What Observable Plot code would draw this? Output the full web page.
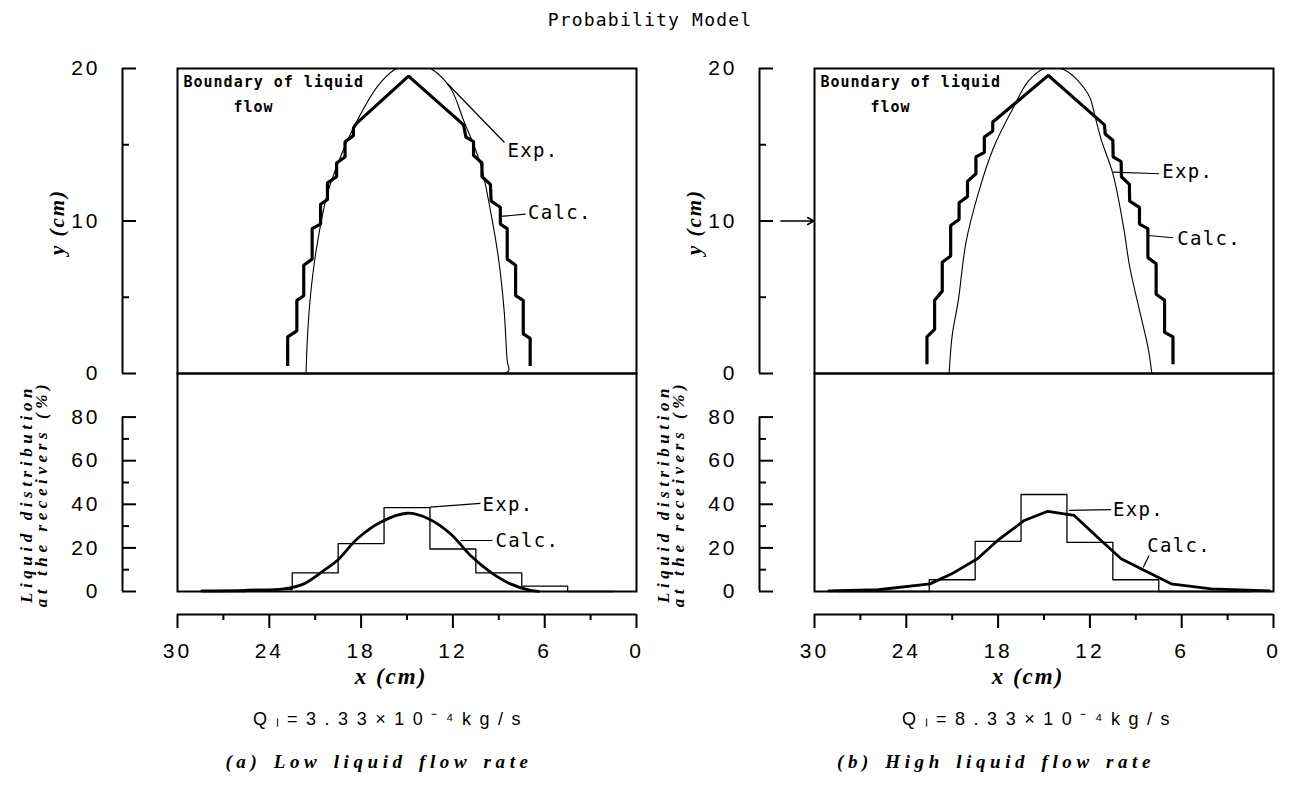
<!DOCTYPE html>
<html><head><meta charset="utf-8">
<script src="https://cdn.jsdelivr.net/npm/d3@7"></script>
<script src="https://cdn.jsdelivr.net/npm/@observablehq/plot@0.6"></script>
<style>
body{margin:0;background:#fff;}
#root{position:relative;width:1300px;height:791px;overflow:hidden;background:#fff;}
#title{position:absolute;left:0;width:1300px;top:9px;text-align:center;font-family:"DejaVu Sans Mono",monospace;font-size:18px;letter-spacing:1.2px;color:#000;}
.panel{position:absolute;}
.panel svg{overflow:visible;}
</style>
</head><body><div id="root"><div id="title">Probability Model</div></div>
<script>
// ---------- axis ticks ----------
const xTicksMajor = [30, 24, 18, 12, 6, 0];
const xTicksMinor = [27, 21, 15, 9, 3];
const yUpperMajor = [0, 10, 20];
const yUpperMinor = [5, 15];
const yLowerMajor = [0, 20, 40, 60, 80];
const yLowerMinor = [10, 30, 50, 70];

// ---------- boundary of liquid flow (x cm, y cm) ----------
const calcBoundA_x = [22.8, 22.8, 22.2, 22.2, 21.75, 21.75, 21.2, 21.2, 20.65, 20.65, 20.2, 20.2, 19.6, 19.6, 19.05, 19.05, 18.5, 18.5, 18.3, 14.9, 11.3, 11.15, 10.65, 10.65, 10.1, 10.1, 9.55, 9.5, 8.9, 8.9, 8.45, 8.45, 7.9, 7.9, 7.4, 7.4, 6.95, 6.95];
const calcBoundA_y = [0.5, 2.4, 2.8, 4.8, 5.1, 7.1, 7.5, 9.5, 9.8, 11.1, 11.4, 12.5, 12.9, 13.8, 14.2, 15.2, 15.6, 16.1, 16.4, 19.5, 16.3, 15.5, 15.2, 14.3, 13.8, 12.9, 12.4, 11.3, 10.9, 9.8, 9.5, 7.5, 7.1, 5.1, 4.8, 2.6, 2.3, 0.5];
const expBoundA_x = [21.6, 21.5, 21.3, 20.9, 20.2, 19.35, 18.25, 16.95, 15.85, 14.6, 13.3, 12.15, 11.3, 10.2, 9.55, 9.0, 8.65, 8.45, 8.35, 8.65];
const expBoundA_y = [0, 2.5, 5.2, 8.3, 11.8, 14.2, 16.6, 18.8, 19.9, 20.4, 19.9, 18.7, 16.6, 13.75, 10.7, 7.4, 4.1, 0.85, 0.2, 0];

const calcBoundB_x = [22.65, 22.65, 22.15, 22.15, 21.65, 21.65, 21.1, 21.1, 20.55, 20.55, 20.0, 20.0, 19.45, 19.45, 18.9, 18.9, 18.35, 18.35, 18.15, 14.72, 11.05, 11.0, 10.5, 10.48, 9.96, 9.94, 9.42, 9.4, 8.76, 8.76, 8.21, 8.21, 7.67, 7.67, 7.12, 7.12, 6.57, 6.57];
const calcBoundB_y = [0.6, 2.4, 2.9, 4.8, 5.4, 7.3, 7.7, 9.7, 10.1, 11.2, 11.6, 12.6, 13.1, 14.2, 14.5, 15.5, 15.9, 16.5, 16.65, 19.55, 16.3, 15.7, 15.3, 14.2, 13.9, 12.9, 12.4, 11.3, 10.9, 9.8, 9.5, 7.6, 7.2, 5.2, 4.8, 2.7, 2.4, 0.6];
const expBoundB_x = [21.2, 21.0, 20.6, 20.1, 19.3, 18.3, 17.1, 16.0, 14.95, 13.65, 12.1, 11.65, 11.25, 10.5, 9.8, 9.4, 8.75, 8.2, 7.95];
const expBoundB_y = [0, 2.5, 4.8, 8.6, 11.8, 14.8, 17.25, 19.2, 20.0, 19.9, 18.3, 16.8, 15.3, 13.1, 9.6, 7.0, 4.1, 1.7, 0];

// ---------- liquid distribution at the receivers (%) ----------
const receiverX = [27, 24, 21, 18, 15, 12, 9, 6, 3];
const receiverWidth = 3;
const expDistA = [0, 1, 8.5, 22, 38.5, 19.5, 8.5, 2.5, 0];
const expDistB = [0, 0, 5.4, 23, 44.5, 22.5, 5.4, 0, 0];
const calcDistA_x = [28.4, 25.5, 23.05, 21.74, 20.44, 19.56, 18.25, 16.73, 14.99, 13.57, 12.16, 10.85, 9.54, 8.24, 6.93, 6.4];
const calcDistA_y = [0.3, 0.5, 1.2, 3.5, 9.6, 14.2, 24.2, 31.8, 35.9, 33.3, 26.5, 16.5, 8.9, 3.5, 0.5, 0.1];
const calcDistB_x = [29.06, 25.83, 22.45, 21.03, 19.35, 18.03, 16.29, 14.76, 13.03, 11.5, 9.96, 8.43, 6.69, 4.07, 0.26];
const calcDistB_y = [0.3, 0.8, 3.5, 8.1, 15, 23.4, 32.6, 36.8, 34.9, 24.9, 15, 9.6, 3.5, 1.2, 0.3];

// ---------- annotations (data units) ----------
const notesUpperA = [
  {label: "Exp.", x1: 12.35, y1: 19.0, x2: 8.63, y2: 15.15, lx: 8.5, ly: 14.6},
  {label: "Calc.", x1: 8.9, y1: 10.3, x2: 7.25, y2: 10.45, lx: 7.15, ly: 10.5}
];
const notesLowerA = [
  {label: "Exp.", x1: 13.5, y1: 38.7, x2: 10.2, y2: 40.4, lx: 10.13, ly: 39.6},
  {label: "Calc.", x1: 11.5, y1: 23.4, x2: 9.41, y2: 23.4, lx: 9.28, ly: 23.4}
];
const notesUpperB = [
  {label: "Exp.", x1: 10.48, y1: 13.2, x2: 7.47, y2: 13.1, lx: 7.34, ly: 13.2},
  {label: "Calc.", x1: 8.19, y1: 9.05, x2: 6.56, y2: 8.9, lx: 6.36, ly: 8.85}
];
const notesLowerB = [
  {label: "Exp.", x1: 13.37, y1: 37.2, x2: 10.62, y2: 37.6, lx: 10.55, ly: 37.6},
  {label: "Calc.", x1: 8.52, y1: 11, x2: 8.13, y2: 16.5, lx: 8.32, ly: 21.1}
];
const arrowB = [{x1: 32.2, x2: 30.05, y: 10}];

const boundaryText = "Boundary of liquid";
const boundaryText2 = "flow";
const yUpperTitle = "y (cm)";
const yLowerTitle = "Liquid distribution\nat the receivers (%)";
const xTitle = "x (cm)";
const qLabelA = "Q\u2097=3.33\u00d710\u207b\u2074kg/s";
const qLabelB = "Q\u2097=8.33\u00d710\u207b\u2074kg/s";
const captionA = "(a) Low liquid flow rate";
const captionB = "(b) High liquid flow rate";

// ---------- helpers ----------
const pts = (xs, ys) => xs.map((x, i) => ({x, y: ys[i]}));
function histSteps(centers, vals) {
  const out = centers.map((c, i) => ({x: c + receiverWidth / 2, y: vals[i]}));
  out.push({x: centers[centers.length - 1] - receiverWidth / 2, y: vals[vals.length - 1]});
  return out;
}
const X0 = xTicksMajor[0], X1 = xTicksMajor[xTicksMajor.length - 1];
const SANS = "Liberation Sans, Arial, sans-serif";
const MONO = "DejaVu Sans Mono, monospace";
const SERIF = "Liberation Serif, Times New Roman, serif";

// letter spacing applied after rendering, keyed by text content
const spacing = new Map([
  [qLabelA, "8.5px"], [qLabelB, "8.5px"],
  [captionA, "4.6px"], [captionB, "4.6px"],
  [xTitle, "2px"], [yUpperTitle, "2px"],
  [yLowerTitle.replace("\n", ""), "4.6px"],
  [boundaryText, "1px"], [boundaryText2, "1px"],
  ["Exp.", "1.3px"], ["Calc.", "1.3px"]
]);
function styleTexts(svg) {
  d3.select(svg).selectAll("text").each(function () {
    const s = spacing.get(this.textContent);
    if (s) this.style.letterSpacing = s;
    if (this.textContent === captionA || this.textContent === captionB) this.style.wordSpacing = "3px";
  });
  d3.select(svg).selectAll('g[aria-label="x-axis tick label"] text, g[aria-label="y-axis tick label"] text')
    .style("letter-spacing", "3px");
  return svg;
}

function yAxisMarks(major, minor, top) {
  return [
    Plot.ruleX([X0], {y1: 0, y2: top, dx: -55, strokeWidth: 2}),
    Plot.axisY({ticks: major, tickSize: -14, tickFormat: () => "", dx: -55, strokeWidth: 2, label: null}),
    Plot.axisY({ticks: minor, tickSize: -7, tickFormat: () => "", dx: -55, strokeWidth: 2, label: null}),
    Plot.axisY({ticks: major, tickSize: 0, tickPadding: 0, dx: -77, fontSize: 21, fontFamily: SANS, label: null, tickFormat: d => String(d)})
  ];
}

function noteMarks(notes) {
  return [
    Plot.link(notes, {x1: "x1", y1: "y1", x2: "x2", y2: "y2", stroke: "black", strokeWidth: 1.2}),
    Plot.text(notes, {x: "lx", y: "ly", text: "label", textAnchor: "start", lineAnchor: "middle", dx: 1, fontSize: 19, fontFamily: MONO, fill: "black"})
  ];
}

function upperPlot(p) {
  return Plot.plot({
    width: 640, height: 334,
    marginLeft: 177, marginRight: 4, marginTop: 28, marginBottom: 1,
    x: {domain: [X0, X1], axis: null, label: null},
    y: {domain: [0, 20], axis: null, label: null},
    style: {background: "transparent", overflow: "visible"},
    marks: [
      ...yAxisMarks(yUpperMajor, yUpperMinor, 20),
      Plot.text([yUpperTitle], {frameAnchor: "left", textAnchor: "middle", rotate: -90, dx: -120, dy: 1, fontSize: 21, fontWeight: "bold", fontStyle: "italic", fontFamily: SERIF}),
      Plot.text([boundaryText], {frameAnchor: "top-left", textAnchor: "start", lineAnchor: "top", dx: 6, dy: 8, fontSize: 15, fontWeight: "bold", fontFamily: MONO}),
      Plot.text([boundaryText2], {frameAnchor: "top-left", textAnchor: "start", lineAnchor: "top", dx: 56, dy: 33, fontSize: 15, fontWeight: "bold", fontFamily: MONO}),
      Plot.line(pts(p.expBx, p.expBy), {x: "x", y: "y", curve: "catmull-rom", stroke: "black", strokeWidth: 1.1, clip: true}),
      Plot.line(pts(p.calcBx, p.calcBy), {x: "x", y: "y", stroke: "black", strokeWidth: 3.2, strokeLinejoin: "miter", strokeLinecap: "butt"}),
      ...noteMarks(p.notesU),
      Plot.arrow(p.arrow, {x1: "x1", x2: "x2", y1: "y", y2: "y", stroke: "black", strokeWidth: 1.5, headLength: 7}),
      Plot.frame({stroke: "black", strokeWidth: 2})
    ]
  });
}

function lowerPlot(p) {
  return Plot.plot({
    width: 640, height: 419,
    marginLeft: 177, marginRight: 4, marginTop: 1, marginBottom: 200,
    x: {domain: [X0, X1], axis: null, label: null},
    y: {domain: [0, 100], axis: null, label: null},
    style: {background: "transparent", overflow: "visible"},
    marks: [
      ...yAxisMarks(yLowerMajor, yLowerMinor, 80),
      Plot.text([yLowerTitle], {frameAnchor: "left", textAnchor: "middle", rotate: -90, dx: -143, dy: 11, lineHeight: 0.9, fontSize: 17, fontWeight: "bold", fontStyle: "italic", fontFamily: SERIF}),
      // detached x axis
      Plot.ruleY([0], {dy: 23, strokeWidth: 2}),
      Plot.axisX({ticks: xTicksMajor, tickSize: 14, dy: 23, tickFormat: () => "", strokeWidth: 2, label: null}),
      Plot.axisX({ticks: xTicksMinor, tickSize: 6, dy: 23, tickFormat: () => "", strokeWidth: 2, label: null}),
      Plot.axisX({ticks: xTicksMajor, tickSize: 0, tickPadding: 0, dy: 52, fontSize: 21, fontFamily: SANS, label: null, tickFormat: d => String(d)}),
      Plot.text([xTitle], {frameAnchor: "bottom", dx: -16, dy: 92, fontSize: 23, fontWeight: "bold", fontStyle: "italic", fontFamily: SERIF}),
      Plot.text([p.q], {frameAnchor: "bottom", dx: p.qDx, dy: 133, fontSize: 18, fontFamily: SANS}),
      Plot.text([p.caption], {frameAnchor: "bottom", dx: p.capDx, dy: 176, fontSize: 19, fontWeight: "bold", fontStyle: "italic", fontFamily: SERIF}),
      // data
      Plot.line(histSteps(receiverX, p.expDist), {x: "x", y: "y", curve: "step-after", stroke: "black", strokeWidth: 1.3}),
      Plot.line(pts(p.calcDx, p.calcDy), {x: "x", y: "y", curve: p.calcCurve, stroke: "black", strokeWidth: 2.8}),
      ...noteMarks(p.notesL),
      Plot.frame({stroke: "black", strokeWidth: 2})
    ]
  });
}

const panels = [
  {left: 0, calcBx: calcBoundA_x, calcBy: calcBoundA_y, expBx: expBoundA_x, expBy: expBoundA_y,
   expDist: expDistA, calcDx: calcDistA_x, calcDy: calcDistA_y, calcCurve: "catmull-rom",
   notesU: notesUpperA, notesL: notesLowerA, arrow: [], q: qLabelA, qDx: -16, caption: captionA, capDx: -28},
  {left: 637, calcBx: calcBoundB_x, calcBy: calcBoundB_y, expBx: expBoundB_x, expBy: expBoundB_y,
   expDist: expDistB, calcDx: calcDistB_x, calcDy: calcDistB_y, calcCurve: "linear",
   notesU: notesUpperB, notesL: notesLowerB, arrow: arrowB, q: qLabelB, qDx: -4, caption: captionB, capDx: -48}
];

const root = document.getElementById("root");
function place(el, left, top) {
  const d = document.createElement("div");
  d.className = "panel";
  d.style.left = left + "px";
  d.style.top = top + "px";
  d.style.width = "640px";
  d.appendChild(el);
  root.appendChild(d);
  styleTexts(el);
}
for (const p of panels) {
  place(upperPlot(p), p.left, 40);
  place(lowerPlot(p), p.left, 372);
}
</script></body></html>
